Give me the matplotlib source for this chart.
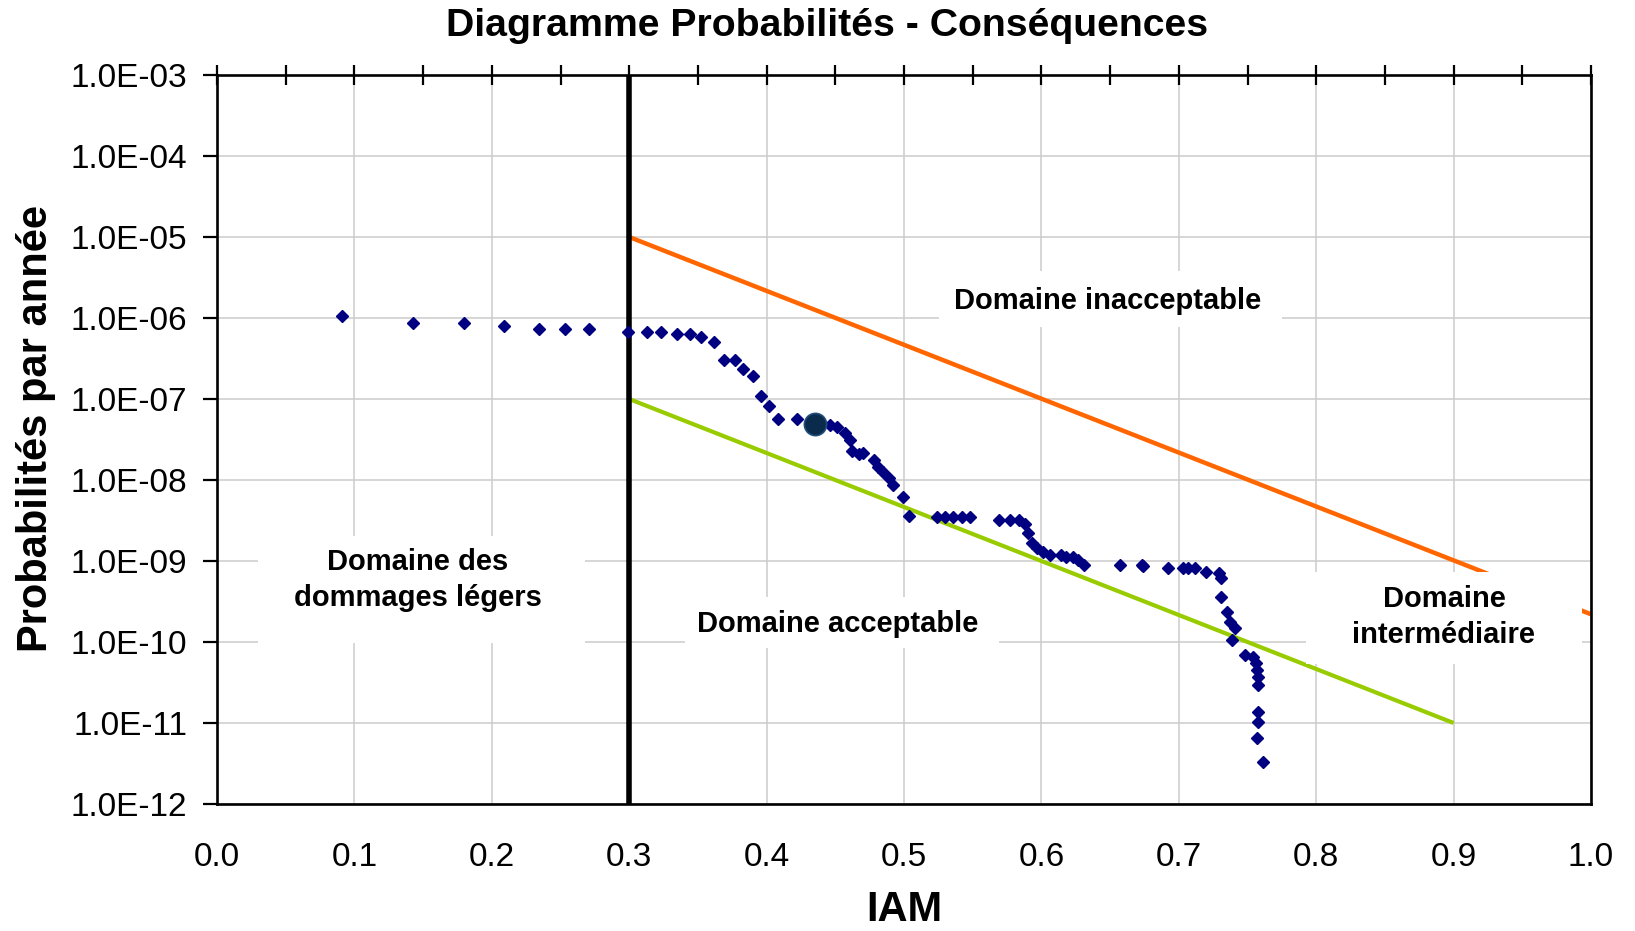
import matplotlib
matplotlib.use("Agg")
import matplotlib.pyplot as plt
from matplotlib.ticker import FixedLocator, FuncFormatter, MultipleLocator
from matplotlib.patches import Rectangle

plt.rcParams['font.family'] = ['Liberation Sans', 'DejaVu Sans']

# ---- data ----
title = "Diagramme Probabilités - Conséquences"
xlabel = "IAM"
ylabel = "Probabilités par année"

iam_pts = [0.091, 0.143, 0.180, 0.209, 0.234, 0.253, 0.271, 0.299, 0.313, 0.323,
           0.335, 0.344, 0.352, 0.362, 0.369, 0.377, 0.383, 0.390, 0.396, 0.402,
           0.408, 0.422, 0.446, 0.451, 0.457, 0.461, 0.462, 0.467, 0.470, 0.478,
           0.481, 0.485, 0.489, 0.492, 0.499, 0.504, 0.524, 0.530, 0.536, 0.542,
           0.548, 0.569, 0.577, 0.584, 0.588, 0.590, 0.593, 0.597, 0.601, 0.606,
           0.614, 0.618, 0.623, 0.627, 0.631, 0.657, 0.673, 0.674, 0.692, 0.703,
           0.707, 0.712, 0.720, 0.729, 0.731, 0.731, 0.735, 0.737, 0.741, 0.739,
           0.748, 0.754, 0.756, 0.757, 0.758, 0.758, 0.758, 0.758, 0.757, 0.761]
prob_pts = [1.07e-6, 8.6e-7, 8.6e-7, 8.0e-7, 7.3e-7, 7.3e-7, 7.3e-7, 6.8e-7, 6.8e-7, 6.8e-7,
            6.3e-7, 6.3e-7, 5.8e-7, 5.0e-7, 3.0e-7, 3.0e-7, 2.35e-7, 1.9e-7, 1.1e-7, 8.2e-8,
            5.6e-8, 5.6e-8, 4.8e-8, 4.55e-8, 3.8e-8, 3.1e-8, 2.25e-8, 2.1e-8, 2.15e-8, 1.77e-8,
            1.46e-8, 1.27e-8, 1.05e-8, 8.7e-9, 6.2e-9, 3.6e-9, 3.5e-9, 3.5e-9, 3.5e-9, 3.5e-9,
            3.5e-9, 3.2e-9, 3.2e-9, 3.2e-9, 2.9e-9, 2.2e-9, 1.65e-9, 1.43e-9, 1.3e-9, 1.19e-9,
            1.19e-9, 1.13e-9, 1.13e-9, 1.03e-9, 8.9e-10, 8.9e-10, 8.9e-10, 8.6e-10, 8.1e-10, 8.1e-10,
            8.1e-10, 8.1e-10, 7.4e-10, 7.1e-10, 6.2e-10, 3.6e-10, 2.35e-10, 1.77e-10, 1.49e-10, 1.06e-10,
            6.9e-11, 6.5e-11, 5.5e-11, 4.5e-11, 3.7e-11, 2.95e-11, 1.37e-11, 1.03e-11, 6.5e-12, 3.3e-12]

highlight_iam = [0.435]
highlight_prob = [4.9e-8]

upper_iam = [0.3, 1.0]
upper_prob = [1e-5, 2.2e-10]
lower_iam = [0.3, 0.9]
lower_prob = [1e-7, 1e-11]

limit_iam = [0.3, 0.3]
limit_prob = [1e-12, 1e-3]

y_ticks = [1e-3, 1e-4, 1e-5, 1e-6, 1e-7, 1e-8, 1e-9, 1e-10, 1e-11, 1e-12]
x_ticks = [0.0, 0.1, 0.2, 0.3, 0.4, 0.5, 0.6, 0.7, 0.8, 0.9, 1.0]

zone_labels = ["Domaine inacceptable", "Domaine acceptable",
               "Domaine des\ndommages légers", "Domaine\nintermédiaire"]

# ---- figure ----
fig = plt.figure(figsize=(16.35, 9.31), dpi=100)
ax = fig.add_axes([217/1635, 1-804/931, 1374/1635, 729/931])

ax.set_yscale('log')
ax.set_xlim(0.0, 1.0)
ax.set_ylim(1e-12, 1e-3)

ax.grid(True, which='major', color='#cccccc', linewidth=1.1, zorder=0)
ax.set_axisbelow(True)

ax.plot(upper_iam, upper_prob, color='#ff6600', linewidth=3.2, zorder=2, solid_capstyle='butt')
ax.plot(lower_iam, lower_prob, color='#99cc00', linewidth=3.0, zorder=2, solid_capstyle='butt')
ax.plot(limit_iam, limit_prob, color='black', linewidth=4.0, zorder=3, solid_capstyle='butt')

# white text boxes (axes fraction)
boxes = [(0.5255, 0.6543, 0.2496, 0.0768),
         (0.3406, 0.2140, 0.2285, 0.0700),
         (0.0298, 0.2209, 0.2380, 0.1467),
         (0.7926, 0.1920, 0.2008, 0.1262)]
text_pos = [(0.6485, 0.6898), (0.4520, 0.2467), (0.1463, 0.3073), (0.8930, 0.2565)]
for (bx, by, bw, bh), (tx, ty), lab in zip(boxes, text_pos, zone_labels):
    ax.add_patch(Rectangle((bx, by), bw, bh, transform=ax.transAxes,
                           facecolor='white', edgecolor='none', zorder=4))
    ax.text(tx, ty, lab, transform=ax.transAxes, ha='center', va='center',
            fontsize=21, fontweight='bold', linespacing=1.36, zorder=5)

ax.plot(iam_pts, prob_pts, linestyle='none', marker='D', markersize=6.3,
        color='#000080', markeredgecolor='#000080', zorder=6)
ax.plot(highlight_iam, highlight_prob, linestyle='none', marker='o', markersize=16,
        color='#0b2b4c', markeredgecolor='#1f4e79', markeredgewidth=1.2, zorder=7)

# axes styling
for s in ax.spines.values():
    s.set_linewidth(1.9)
    s.set_color('black')
    s.set_zorder(8)

ax.yaxis.set_major_locator(FixedLocator(y_ticks))
ax.yaxis.set_minor_locator(FixedLocator([]))
ax.yaxis.set_major_formatter(FuncFormatter(lambda v, p: f"{v:.1E}"))
ax.tick_params(axis='y', which='major', direction='out', length=10, width=1.6,
               pad=11.5, labelsize=24, left=True, right=False)

ax.xaxis.set_major_locator(FixedLocator(x_ticks))
ax.xaxis.set_minor_locator(MultipleLocator(0.05))
ax.xaxis.set_major_formatter(FuncFormatter(lambda v, p: f"{v:.1f}"))
ax.tick_params(axis='x', which='both', direction='inout', length=14.4, width=1.6,
               bottom=False, top=True, labelbottom=True, labeltop=False,
               pad=20.0, labelsize=24)

fig.text(827/1635, 1-26/931, title, ha='center', va='center',
         fontsize=28.3, fontweight='bold')
fig.text(36/1635, 1-429/931, ylabel, ha='center', va='center', rotation=90,
         fontsize=30, fontweight='bold')
fig.text(904/1635, 1/931, xlabel, ha='center', va='bottom',
         fontsize=30, fontweight='bold')

fig.savefig('out.png', dpi=100)
